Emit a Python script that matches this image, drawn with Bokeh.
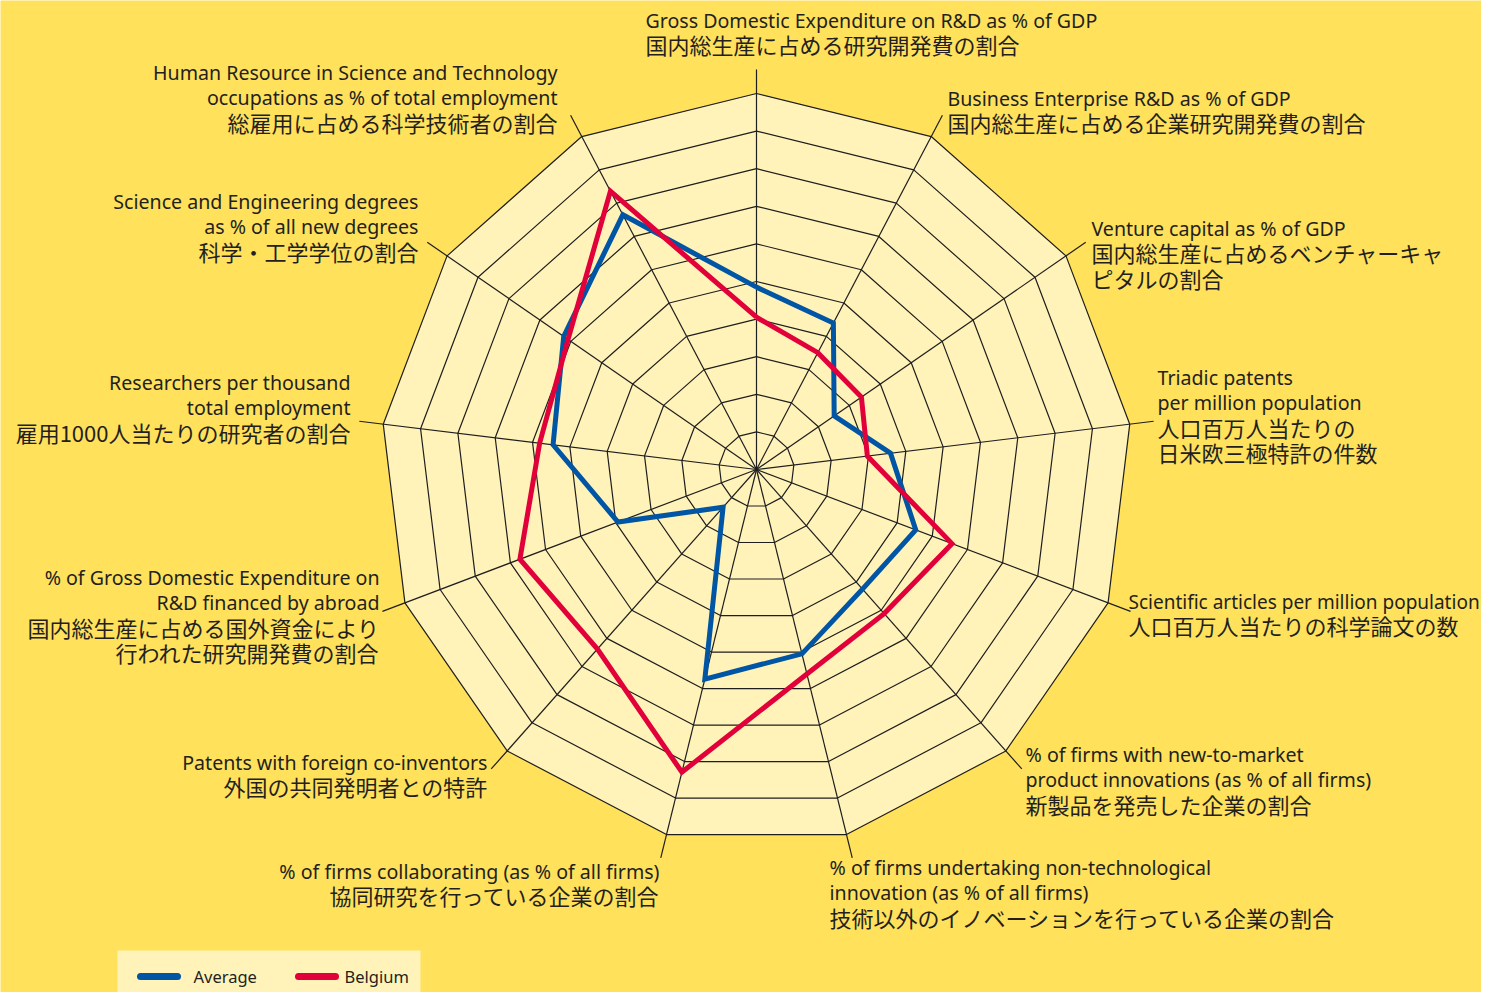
import numpy as np
from bokeh.plotting import figure
from bokeh.models import Range1d
from bokeh.embed import file_html
from bokeh.resources import INLINE
from bokeh.core.properties import value

# ---------------- data ----------------
indicator_labels = [
    ["Gross Domestic Expenditure on R&D as % of GDP", "国内総生産に占める研究開発費の割合"],
    ["Business Enterprise R&D as % of GDP", "国内総生産に占める企業研究開発費の割合"],
    ["Venture capital as % of GDP", "国内総生産に占めるベンチャーキャ", "ピタルの割合"],
    ["Triadic patents", "per million population", "人口百万人当たりの", "日米欧三極特許の件数"],
    ["Scientific articles per million population", "人口百万人当たりの科学論文の数"],
    ["% of firms with new-to-market", "product innovations (as % of all firms)", "新製品を発売した企業の割合"],
    ["% of firms undertaking non-technological", "innovation (as % of all firms)",
     "技術以外のイノベーションを行っている企業の割合"],
    ["% of firms collaborating (as % of all firms)", "協同研究を行っている企業の割合"],
    ["Patents with foreign co-inventors", "外国の共同発明者との特許"],
    ["% of Gross Domestic Expenditure on", "R&D financed by abroad", "国内総生産に占める国外資金により",
     "行われた研究開発費の割合"],
    ["Researchers per thousand", "total employment", "雇用1000人当たりの研究者の割合"],
    ["Science and Engineering degrees", "as % of all new degrees", "科学・工学学位の割合"],
    ["Human Resource in Science and Technology", "occupations as % of total employment",
     "総雇用に占める科学技術者の割合"],
]
average = [4.85, 4.40, 2.51, 3.59, 4.53, 4.25, 5.05, 5.74, 1.34, 3.94, 5.45, 6.23, 7.65]
belgium = [4.05, 3.51, 3.39, 2.97, 5.56, 5.12, 5.60, 8.29, 6.38, 6.73, 5.81, 6.09, 8.36]
ring_levels = [1, 2, 3, 4, 5, 6, 7, 8, 9, 10]
series_names = ["Average", "Belgium"]

# ---------------- layout / style ----------------
BG = "#FFE15C"
FILL = "#FFF3BA"
GRID = "#1e1e1e"
BLUE = "#0055A4"
RED = "#E2003A"
TXT = "#231f20"
LATIN = "Noto Sans"
CJK = "Noto Sans CJK JP"

CX, CY, S = 756.0, 469.0, 37.6       # centre (px) and px per unit
W, H = 1481, 992
SPOKE_END = 10.64

def px(xp):
    return (xp - CX) / S

def py(yp):
    return (CY - yp) / S

n = len(indicator_labels)
theta = np.arange(n) * 2 * np.pi / n
sx, cy_ = np.sin(theta), np.cos(theta)

p = figure(width=W, height=H, output_backend="svg", toolbar_location=None,
           x_range=Range1d(px(0), px(W)), y_range=Range1d(py(H), py(0)),
           min_border=0, background_fill_color=BG, border_fill_color=BG,
           outline_line_color=None)
p.axis.visible = False
p.grid.visible = False

# outer filled polygon
R = ring_levels[-1]
p.patch(list(R * sx), list(R * cy_), fill_color=FILL, line_color=None)

# rings
xs = [list(np.append(r * sx, r * sx[0])) for r in ring_levels]
ys = [list(np.append(r * cy_, r * cy_[0])) for r in ring_levels]
p.multi_line(xs, ys, line_color=GRID, line_width=1.2)

# spokes
p.segment(x0=[0] * n, y0=[0] * n, x1=list(SPOKE_END * sx), y1=list(SPOKE_END * cy_),
          line_color=GRID, line_width=1.2)

# series
for vals, col in ((average, BLUE), (belgium, RED)):
    v = np.array(vals + vals[:1])
    t = np.append(theta, theta[0])
    p.line(list(v * np.sin(t)), list(v * np.cos(t)), line_color=col, line_width=5,
           line_join="miter")

# labels: (anchor x px, first line centre y px, align, latin size)
label_pos = [
    (645, 20, "left", 19.6), (947, 98, "left", 19.6), (1091, 228, "left", 19.6),
    (1157, 377, "left", 19.6), (1128, 601, "left", 19.0), (1025, 754, "left", 19.6),
    (829, 867, "left", 19.6),
    (659, 871, "right", 19.6), (487, 762, "right", 19.6), (379, 577, "right", 19.6),
    (350, 382, "right", 19.6), (418, 201, "right", 19.6), (557, 72, "right", 19.6),
]
LINE_H = 25.3

def is_cjk(s):
    return any(ord(c) > 0x2E80 for c in s)

for lines, (ax, ay, al, fs) in zip(indicator_labels, label_pos):
    for k, line in enumerate(lines):
        cj = is_cjk(line)
        yy = ay + k * LINE_H - (1.5 if cj else 0)
        p.text(x=[px(ax)], y=[py(yy)], text=[line],
               text_font=value(CJK if cj else LATIN),
               text_font_size="22px" if cj else f"{fs}px",
               text_align=al, text_baseline="middle", text_color=TXT)

# legend
LEG_Y = 976
p.quad(left=[px(117)], right=[px(420)], top=[py(950)], bottom=[py(1000)],
       fill_color=FILL, line_color=None)
leg_x = [(140, 177, 193), (298, 335, 344)]
for name, col, (a, b, tx) in zip(series_names, (BLUE, RED), leg_x):
    p.segment(x0=[px(a)], y0=[py(LEG_Y)], x1=[px(b)], y1=[py(LEG_Y)], line_color=col,
              line_width=7, line_cap="round")
    p.text(x=[px(tx)], y=[py(LEG_Y)], text=[name], text_font=value(LATIN),
           text_font_size="16.5px", text_align="left", text_baseline="middle",
           text_color=TXT)

open("out.html", "w").write(file_html(p, INLINE))
